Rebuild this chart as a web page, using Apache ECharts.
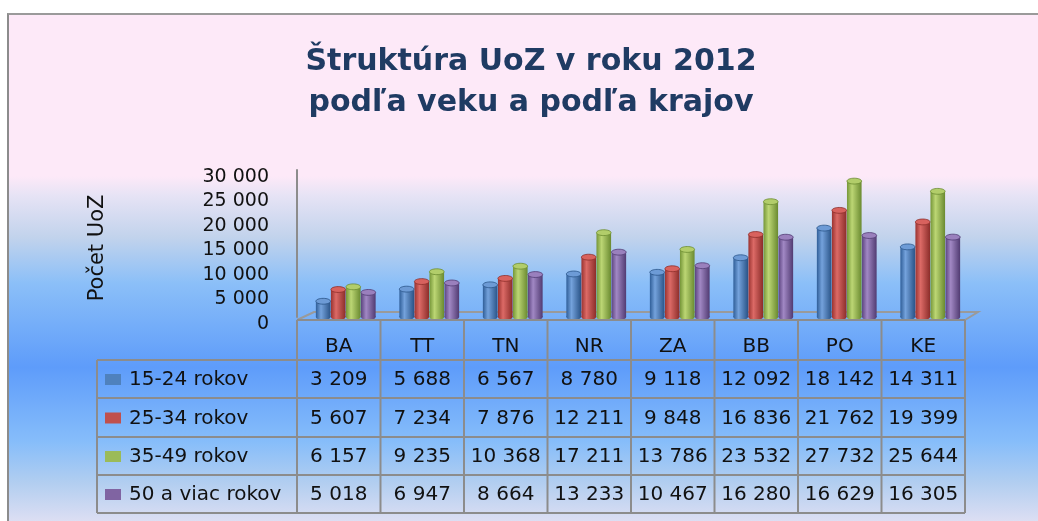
<!DOCTYPE html>
<html lang="sk">
<head>
<meta charset="utf-8">
<script src="https://cdn.jsdelivr.net/npm/echarts@6/dist/echarts.min.js"></script>
<style>
  body { margin: 0; background: #fff; }
  #frame {
    position: absolute; left: 7px; top: 13px; width: 1040px; height: 520px;
    border-left: 2px solid #8c8c8c; border-top: 2px solid #9a9a9a;
    background: linear-gradient(to bottom,
      #fde9f8 0%, #fde9f8 31%, #e6e3f5 34.8%, #c2d3ec 42.7%, #8bbff8 51.6%,
      #5e9cfa 67.7%, #86bdfa 82%, #b2cef0 90%, #e6e2f4 99%);
  }
  #container { position: absolute; left: 0; top: 0; width: 1038px; height: 521px; }
</style>
</head>
<body>
<div id="frame"></div>
<div id="container"></div>
<script>
  // data
  var kraje = ['BA', 'TT', 'TN', 'NR', 'ZA', 'BB', 'PO', 'KE'];
  var skupiny = ['15-24 rokov', '25-34 rokov', '35-49 rokov', '50 a viac rokov'];
  var v1524 = [3209, 5688, 6567, 8780, 9118, 12092, 18142, 14311];
  var v2534 = [5607, 7234, 7876, 12211, 9848, 16836, 21762, 19399];
  var v3549 = [6157, 9235, 10368, 17211, 13786, 23532, 27732, 25644];
  var v50 = [5018, 6947, 8664, 13233, 10467, 16280, 16629, 16305];
  var hodnoty = [v1524, v2534, v3549, v50];

  var farby = ['#4f81bd', '#c0504d', '#9bbb59', '#8064a2'];
  // tmava / svetla / tmava / vrch - imitacia valca
  var odtiene = [
    ['#2f5e98', '#74a2dc', '#2a5488', '#6d9bd6'],
    ['#9a3330', '#dc6a66', '#8c2d2a', '#d8625e'],
    ['#759638', '#bcd674', '#6a8a30', '#b2cd6a'],
    ['#5c4480', '#a188c4', '#513b72', '#9a80bd']
  ];

  var FONT = '"DejaVu Sans"';

  function fmt(v) {
    return String(v).replace(/\B(?=(\d{3})+(?!\d))/g, ' ');
  }

  function valec(si) {
    return function (params, api) {
      var top = api.coord([api.value(0), api.value(1)]);
      var base = api.coord([api.value(0), 0]);
      var band = api.size([1, 0])[0];
      var w = band * 0.175;
      var cx = top[0] + (si - 1.5) * w * 1.03;
      var ry = w * 0.2;
      var c = odtiene[si];
      var grad = new echarts.graphic.LinearGradient(0, 0, 1, 0, [
        { offset: 0, color: c[0] }, { offset: 0.35, color: c[1] }, { offset: 1, color: c[2] }
      ]);
      return {
        type: 'group',
        children: [
          { type: 'ellipse', shape: { cx: cx, cy: base[1], rx: w / 2, ry: ry }, style: { fill: grad } },
          { type: 'rect', shape: { x: cx - w / 2, y: top[1], width: w, height: base[1] - top[1] }, style: { fill: grad } },
          { type: 'ellipse', shape: { cx: cx, cy: top[1], rx: w / 2, ry: ry }, style: { fill: c[3], stroke: c[2], lineWidth: 0.8 } }
        ]
      };
    };
  }

  // tabulka pod grafom
  var stlpX = 297, stlpW = 83.5, riadky = [320, 360, 398, 437, 475, 513];
  var ciara = '#8c8c8c';
  var grafika = [];
  function linka(x1, y1, x2, y2) {
    grafika.push({ type: 'line', shape: { x1: x1, y1: y1, x2: x2, y2: y2 }, style: { stroke: ciara, lineWidth: 2 }, z: 10 });
  }
  function text(t, x, y, align, size) {
    grafika.push({ type: 'text', x: x, y: y, z: 11,
      style: { text: t, fill: '#111', font: size + 'px ' + FONT, textAlign: align, textVerticalAlign: 'middle' } });
  }
  var koniec = stlpX + kraje.length * stlpW;
  // podlaha
  grafika.push({ type: 'polyline', shape: { points: [[297, 320], [314, 312], [978, 312], [965, 320]] },
    style: { stroke: '#9a9a9a', lineWidth: 2, fill: null }, z: 1 });
  linka(stlpX, riadky[0], koniec, riadky[0]);
  for (var r = 1; r < riadky.length; r++) linka(97, riadky[r], koniec, riadky[r]);
  linka(97, riadky[1], 97, riadky[5]);
  for (var k = 0; k <= kraje.length; k++) {
    linka(stlpX + k * stlpW, riadky[0], stlpX + k * stlpW, riadky[5]);
  }
  kraje.forEach(function (n, i) { text(n, stlpX + (i + 0.5) * stlpW, 347, 'center', 20); });
  skupiny.forEach(function (s, si) {
    var yc = (riadky[si + 1] + riadky[si + 2]) / 2 + 1;
    grafika.push({ type: 'rect', shape: { x: 105, y: yc - 6, width: 16, height: 11 }, style: { fill: farby[si] }, z: 11 });
    text(s, 129, yc, 'left', 20);
    hodnoty[si].forEach(function (v, i) { text(fmt(v), stlpX + (i + 0.5) * stlpW, yc, 'center', 20); });
  });
  grafika.push({ type: 'text', x: 98, y: 248, rotation: Math.PI / 2, z: 11,
    style: { text: 'Počet UoZ', fill: '#111', font: '21px ' + FONT, textAlign: 'center', textVerticalAlign: 'middle' } });

  var chart = echarts.init(document.getElementById('container'), null, { renderer: 'canvas' });
  chart.setOption({
    backgroundColor: 'transparent',
    animation: false,
    title: {
      text: 'Štruktúra UoZ v roku 2012\npodľa veku a podľa krajov',
      left: 526, top: 37, textAlign: 'center',
      textStyle: { fontFamily: FONT, fontWeight: 'bold', fontSize: 30, lineHeight: 41, color: '#1f3b63' }
    },
    grid: { left: 304, right: 66, top: 170, bottom: 204 },
    xAxis: {
      type: 'category', data: kraje,
      axisLine: { show: false }, axisTick: { show: false }, axisLabel: { show: false }
    },
    yAxis: {
      type: 'value', min: 0, max: 30000, interval: 5000, offset: 7,
      axisLine: { show: true, lineStyle: { color: '#8c8c8c', width: 2 } },
      axisTick: { show: false },
      splitLine: { show: false },
      axisLabel: { margin: 28, color: '#111', fontFamily: FONT, fontSize: 19,
        verticalAlign: 'top', lineHeight: 14, formatter: fmt }
    },
    graphic: grafika,
    series: hodnoty.map(function (arr, si) {
      return {
        type: 'custom', name: skupiny[si],
        renderItem: valec(si),
        encode: { x: 0, y: 1 },
        data: arr.map(function (v, i) { return [i, v]; }),
        z: 5
      };
    })
  });
</script>
</body>
</html>
